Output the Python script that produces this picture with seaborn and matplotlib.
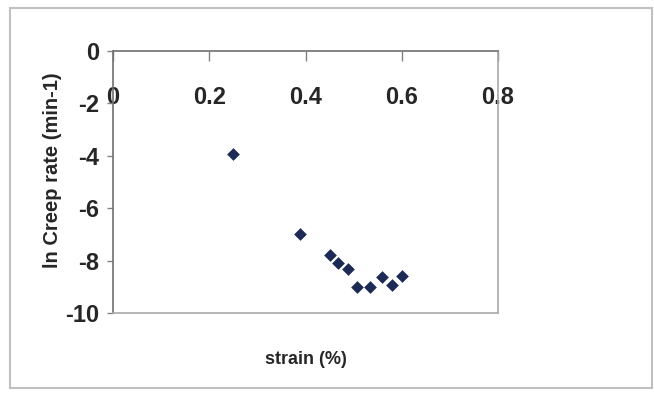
import numpy as np
import pandas as pd
import matplotlib
matplotlib.use("Agg")
import matplotlib.pyplot as plt
import seaborn as sns
from matplotlib.patches import Rectangle

# strain (%) vs ln creep rate (min-1)
strain = [0.249, 0.389, 0.450, 0.468, 0.489, 0.508, 0.535, 0.559, 0.579, 0.600]
ln_creep_rate = [-3.93, -6.98, -7.79, -8.10, -8.33, -9.00, -9.00, -8.64, -8.92, -8.59]
x_ticks = [0, 0.2, 0.4, 0.6, 0.8]
y_ticks = [0, -2, -4, -6, -8, -10]

sns.set_style("white")
plt.rcParams["font.family"] = ["Liberation Sans", "DejaVu Sans"]

df = pd.DataFrame({"strain": strain, "rate": ln_creep_rate})

fig = plt.figure(figsize=(6.54, 3.94), dpi=100)
ax = fig.add_axes([113 / 654, 81 / 394, 385 / 654, 262 / 394])

sns.scatterplot(data=df, x="strain", y="rate", marker="D", s=42,
                color="#1c2a55", edgecolor="#1c2a55", linewidth=0, ax=ax)

ax.set_xlim(0, 0.8)
ax.set_ylim(-10, 0)
ax.set_xticks(x_ticks)
ax.set_xticklabels(["0", "0.2", "0.4", "0.6", "0.8"])
ax.set_yticks(y_ticks)
ax.set_yticklabels([str(v) for v in y_ticks])

# x axis sits at y = 0 (top), labels drawn below it like Excel
ax.xaxis.set_ticks_position("top")
ax.tick_params(axis="x", direction="in", length=7, width=1, color="#808080",
               labeltop=True, labelbottom=False, pad=-42,
               labelsize=17)
ax.tick_params(axis="y", direction="out", length=4, width=1, color="#808080",
               left=True, pad=6, labelsize=17)
for lab in ax.get_xticklabels() + ax.get_yticklabels():
    lab.set_fontweight("bold")

for side in ["top", "left"]:
    ax.spines[side].set_color("#707070")
    ax.spines[side].set_linewidth(1.2)
for side in ["right", "bottom"]:
    ax.spines[side].set_color("#a8a8a8")
    ax.spines[side].set_linewidth(1.2)

ax.set_xlabel("strain (%)", fontsize=13, fontweight="bold", labelpad=27)
ax.set_ylabel("ln Creep rate (min-1)", fontsize=14.5, fontweight="bold")
ax.yaxis.set_label_coords(-0.133, 0.546)

# chart border
fig.patches.append(Rectangle((10 / 654, 6 / 394), 642 / 654, 380 / 394,
                             transform=fig.transFigure, fill=False,
                             edgecolor="#c0c0c0", linewidth=1.5))

fig.savefig("out.png", dpi=100)
